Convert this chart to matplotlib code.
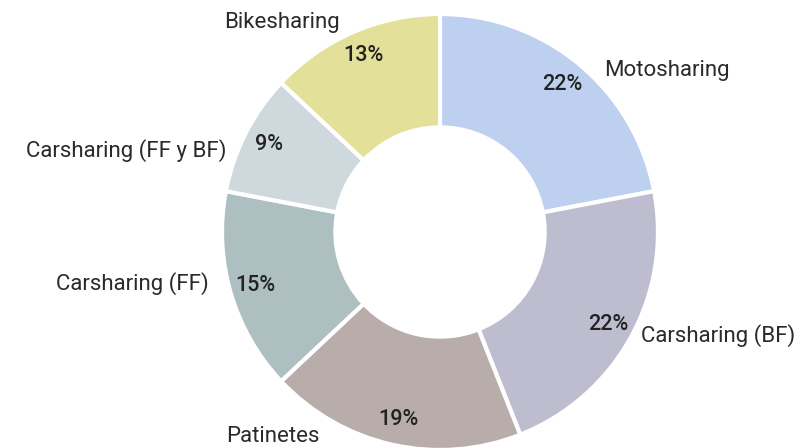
import matplotlib.pyplot as plt

# Shares by mode (clockwise from the top)
categories = ["Motosharing", "Carsharing (BF)", "Patinetes", "Carsharing (FF)",
              "Carsharing (FF y BF)", "Bikesharing"]
shares = [22, 22, 19, 15, 9, 13]
pct_labels = ["22%", "22%", "19%", "15%", "9%", "13%"]

colors = ["#BED0EF", "#BDBDCF", "#B9ADAB", "#AEBFC1", "#CFD8DC", "#E3E199"]

# Outer label anchors in pixel coords (x, y from top) and alignment
label_pos = [(604, 70, "left"), (641, 336, "left"), (226, 437, "left"),
             (209, 284, "right"), (226, 151, "right"), (340, 22, "right")]

plt.rcParams["font.family"] = ["Roboto", "DejaVu Sans"]

W, H = 810, 448
fig = plt.figure(figsize=(W / 100, H / 100), dpi=100)
ax = fig.add_axes([0, 0, 1, 1])

cx, cy, R = 440, H - 232, 218
wedges, texts, autotexts = ax.pie(
    shares, colors=colors, startangle=90, counterclock=False,
    center=(cx, cy), radius=R, frame=True,
    autopct=lambda p: f"{p:.0f}%", pctdistance=0.88,
    wedgeprops=dict(width=R * 0.52, edgecolor="white", linewidth=3),
    textprops=dict(fontsize=15.5, color="#222222", fontweight="medium"),
)
ax.set_xlim(0, W)
ax.set_ylim(0, H)
ax.set_aspect("equal")
ax.axis("off")

for t, lab in zip(autotexts, pct_labels):
    t.set_text(lab)

for name, (x, y, ha) in zip(categories, label_pos):
    ax.text(x, H - y, name, ha=ha, va="center", fontsize=16, color="#2a2a2a")

fig.savefig("out.png", dpi=100)
